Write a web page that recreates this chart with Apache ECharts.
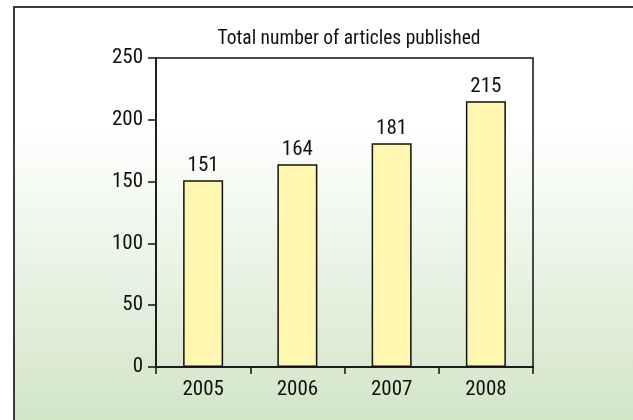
<!DOCTYPE html>
<html><head><meta charset="utf-8">
<script src="https://cdn.jsdelivr.net/npm/echarts@6/dist/echarts.min.js"></script>
<style>html,body{margin:0;padding:0;background:#fff}#c{width:633px;height:420px}</style>
</head><body><div id="c"></div>
<script>
const categories = ['2005', '2006', '2007', '2008'];
const articles = [151, 164, 181, 215];
const yTicks = [0, 50, 100, 150, 200, 250];
const titleText = 'Total number of articles published';

const FONT = '"Roboto Condensed", "Liberation Sans", Arial, sans-serif';
const chart = echarts.init(document.getElementById('c'), null, {renderer: 'canvas'});
chart.setOption({
  animation: false,
  backgroundColor: '#ffffff',
  graphic: [{
    type: 'rect', z: -10, silent: true,
    shape: {x: 14, y: 7, width: 640, height: 430},
    style: {
      stroke: '#3a3a3a', lineWidth: 2,
      fill: new echarts.graphic.LinearGradient(0, 0, 0, 1, [
        {offset: 0, color: '#ffffff'},
        {offset: 0.28, color: '#ffffff'},
        {offset: 1, color: '#cfe4c4'}
      ])
    }
  }],
  title: {
    text: titleText, left: 344, top: 24, textAlign: 'center',
    textStyle: {fontFamily: FONT, fontSize: 19.5, fontWeight: 'normal', color: '#111'}
  },
  grid: {left: 156, right: 100, top: 58, bottom: 53, show: true, borderColor: '#111', borderWidth: 1.5, backgroundColor: 'transparent'},
  xAxis: {
    type: 'category', data: categories, boundaryGap: true,
    axisLine: {lineStyle: {color: '#111', width: 1.5}},
    axisTick: {show: true, length: 7, lineStyle: {color: '#111', width: 1.5}},
    axisLabel: {fontFamily: FONT, fontSize: 21, color: '#111', margin: 12}
  },
  yAxis: {
    type: 'value', min: yTicks[0], max: yTicks[yTicks.length - 1], interval: 50,
    axisLine: {show: true, lineStyle: {color: '#111', width: 1.5}},
    axisTick: {show: true, length: 8, lineStyle: {color: '#111', width: 1.5}},
    splitLine: {show: false},
    axisLabel: {fontFamily: FONT, fontSize: 21, color: '#111', margin: 13}
  },
  series: [{
    type: 'bar', data: articles, barWidth: 40,
    itemStyle: {color: '#fff6b0', borderColor: '#111', borderWidth: 1.5},
    label: {show: true, position: 'top', distance: 4, fontFamily: FONT, fontSize: 21, color: '#111'}
  }]
});
</script></body></html>
